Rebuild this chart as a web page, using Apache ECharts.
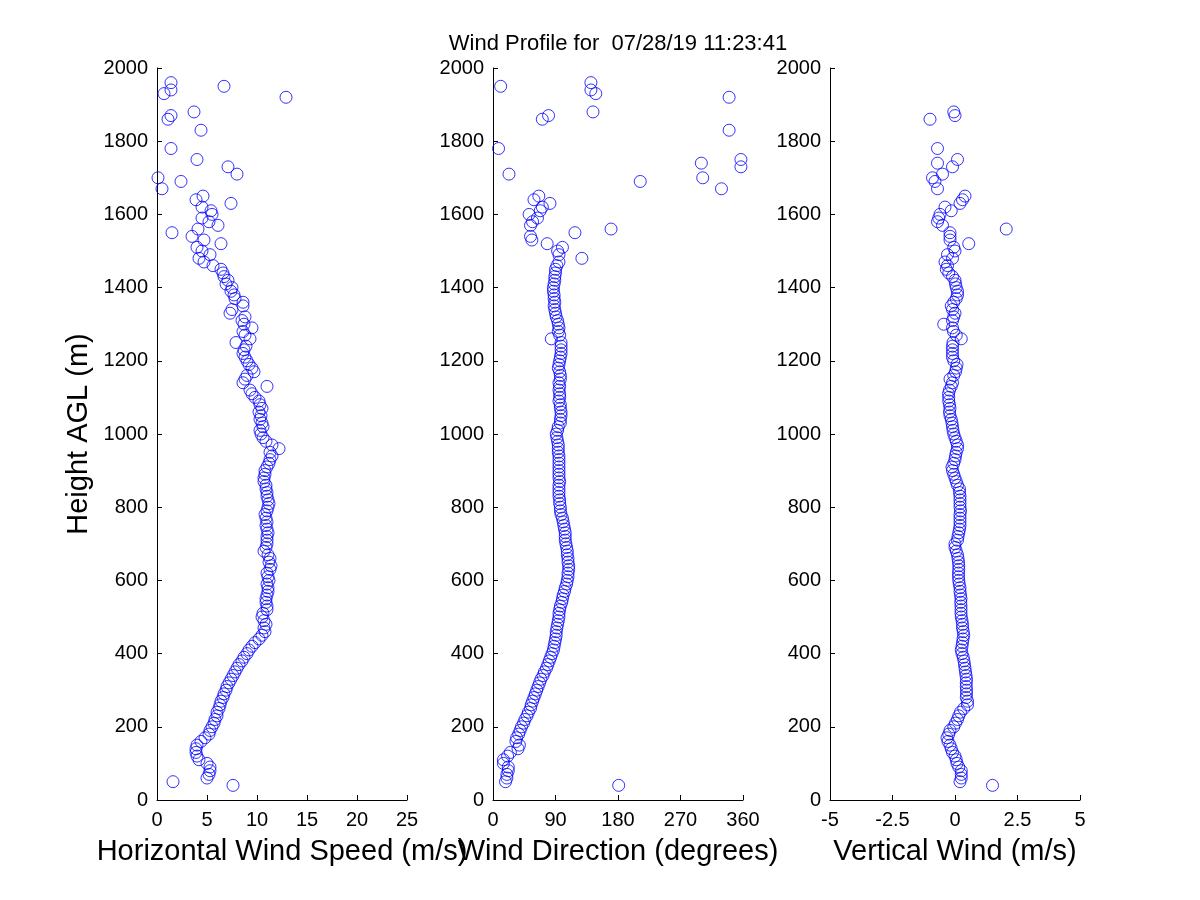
<!DOCTYPE html>
<html>
<head>
<meta charset="utf-8">
<script src="https://cdn.jsdelivr.net/npm/echarts@6/dist/echarts.min.js"></script>
<style>
html,body{margin:0;padding:0;background:#fff;}
#chart{width:1200px;height:900px;}
</style>
</head>
<body>
<div id="chart"></div>
<script>
// Heights (m AGL)
const heights = [
  40,50,60,70,80,90,100,110,120,130,
  140,150,160,170,180,190,200,210,220,230,
  240,250,260,270,280,290,300,310,320,330,
  340,350,360,370,380,390,400,410,420,430,
  440,450,460,470,480,490,500,510,520,530,
  540,550,560,570,580,590,600,610,620,630,
  640,650,660,670,680,690,700,710,720,730,
  740,750,760,770,780,790,800,810,820,830,
  840,850,860,870,880,890,900,910,920,930,
  940,950,960,970,980,990,1000,1010,1020,1030,
  1040,1050,1060,1070,1080,1090,1100,1110,1120,1130,
  1140,1150,1160,1170,1180,1190,1200,1210,1220,1230,
  1240,1250,1260,1270,1280,1290,1300,1310,1320,1330,
  1340,1350,1360,1370,1380,1390,1400,1410,1420,1430,
  1440,1450,1460,1470,1480,1490,1500,1510,1520,1530,
  1540,1550,1560,1570,1580,1590,1600,1610,1620,1630,
  1640,1650,1660,1670,1680,1690,1700,1710,1720,1730,
  1740,1750,1760,1770,1780,1790,1800,1810,1820,1830,
  1840,1850,1860,1870,1880,1890,1900,1910,1920,1930,
  1940,1950,1960
];

// Horizontal wind speed (m/s)
const windSpeed = [
  7.6,1.6,5.0,5.2,5.3,5.3,5.0,4.2,4.0,3.9,
  3.9,4.0,4.4,4.8,5.2,5.3,5.5,5.7,5.8,6.0,
  6.0,6.2,6.3,6.4,6.6,6.7,6.9,7.0,7.2,7.4,
  7.6,7.8,8.0,8.2,8.5,8.7,9.0,9.2,9.5,9.8,
  10.2,10.5,10.8,10.7,10.9,10.7,10.5,10.6,11.0,11.0,
  10.9,10.9,11.0,11.1,11.1,11.0,11.2,11.1,11.0,11.3,
  11.4,11.2,11.3,11.1,10.7,10.9,11.0,11.0,11.0,11.1,
  11.0,10.9,11.0,10.9,10.8,11.0,11.1,11.2,11.1,11.0,
  11.0,10.9,10.9,10.7,10.7,10.8,10.8,11.0,11.2,11.3,
  11.5,11.3,12.2,11.5,10.9,10.6,10.4,10.3,10.6,10.5,
  10.3,10.4,10.2,10.5,10.3,10.2,9.8,9.5,9.3,11.0,
  8.6,8.8,9.0,9.7,9.5,9.2,9.0,8.8,8.6,8.7,
  8.9,7.9,9.3,8.8,8.6,9.5,8.7,8.5,8.8,7.3,
  7.5,8.6,8.6,7.8,7.7,7.4,7.5,6.9,7.1,6.7,
  6.6,6.4,5.6,4.7,4.2,5.3,4.5,4.0,6.4,4.7,
  3.5,1.5,4.1,6.1,5.2,4.5,5.5,5.4,4.5,7.4,
  3.9,4.6,null,0.5,null,2.4,0.1,8.0,null,7.1,
  null,4.0,null,null,1.4,null,null,null,null,4.4,
  null,null,1.1,1.4,3.7,null,null,null,12.9,0.7,
  1.4,6.7,1.4
];

// Wind direction (degrees)
const windDir = [
  181,18,20,20,22,22,15,15,21,25,
  36,38,33,34,37,39,41,44,46,49,
  51,54,55,57,59,61,63,65,67,69,
  72,74,77,79,81,83,85,87,88,89,
  90,91,91,92,93,94,95,95,96,97,
  99,100,101,103,104,106,107,108,108,109,
  109,108,108,107,107,106,105,104,104,104,
  103,102,101,100,98,97,97,96,96,95,
  95,95,95,96,95,95,95,95,95,95,
  95,94,94,94,93,92,91,93,94,97,
  97,98,98,97,97,95,96,96,95,96,
  95,97,97,96,94,95,96,97,98,98,
  98,98,84,96,94,95,94,93,91,90,
  89,88,89,88,88,87,87,88,89,89,
  90,90,92,95,128,95,93,100,78,56,
  54,118,170,54,57,64,52,68,71,82,
  59,66,null,329,null,212,302,23,null,357,
  300,357,null,null,8,null,null,null,null,340,
  null,null,71,80,144,null,null,null,340,148,
  141,11,141
];

// Vertical wind (m/s)
const vertWind = [
  1.5,0.2,0.25,0.25,0.25,0.15,0.08,0.05,0.0,-0.1,
  -0.15,-0.2,-0.28,-0.32,-0.25,-0.2,-0.05,0.02,0.1,0.15,
  0.22,0.35,0.5,0.5,0.45,0.46,0.46,0.45,0.45,0.46,
  0.44,0.42,0.4,0.38,0.36,0.33,0.28,0.25,0.28,0.3,
  0.32,0.35,0.33,0.3,0.3,0.28,0.25,0.24,0.24,0.24,
  0.23,0.24,0.22,0.2,0.2,0.17,0.15,0.14,0.14,0.15,
  0.15,0.14,0.12,0.1,0.05,0.0,0.0,0.1,0.12,0.15,
  0.18,0.2,0.2,0.2,0.2,0.22,0.2,0.2,0.2,0.2,
  0.18,0.18,0.1,0.05,0.0,-0.05,-0.1,-0.12,-0.05,0.0,
  0.02,0.05,0.1,0.1,0.05,0.0,-0.05,-0.08,-0.1,-0.12,
  -0.15,-0.2,-0.22,-0.2,-0.22,-0.25,-0.25,-0.26,-0.22,-0.15,
  -0.1,-0.2,-0.05,0.02,0.05,0.08,-0.05,-0.1,-0.1,-0.1,
  -0.1,-0.08,0.25,0.05,-0.06,-0.1,-0.45,-0.1,-0.05,0.0,
  -0.1,-0.15,-0.05,0.05,0.1,0.1,0.05,0.02,0.0,-0.1,
  -0.25,-0.35,-0.3,-0.4,-0.1,-0.3,0.0,-0.05,0.55,-0.2,
  -0.2,-0.2,2.05,-0.5,-0.7,-0.65,-0.6,-0.15,-0.4,0.2,
  0.3,0.4,null,-0.7,null,-0.8,-0.9,-0.5,null,-0.1,
  -0.7,0.1,null,null,-0.7,null,null,null,null,null,
  null,null,-1.0,0.0,-0.05,null,null,null,null,null,
  null,null,null
];

const titleText = 'Wind Profile for  07/28/19 11:23:41';
const xNames = ['Horizontal Wind Speed (m/s)', 'Wind Direction (degrees)', 'Vertical Wind (m/s)'];
const yName = 'Height AGL (m)';

function pairs(vals) {
  const out = [];
  heights.forEach((h, i) => { if (vals[i] !== null && vals[i] !== undefined) out.push([vals[i], h]); });
  return out;
}

const FONT = 'Liberation Sans, Arial, sans-serif';
const lefts = [157, 493, 830];
const grids = lefts.map(l => ({ left: l, width: 250, top: 68, height: 732, containLabel: false }));

function baseAxis() {
  return {
    axisLine: { show: true, onZero: false, lineStyle: { color: '#000', width: 1 } },
    axisTick: { show: true, inside: true, length: 5, lineStyle: { color: '#000' } },
    splitLine: { show: false },
    axisLabel: { color: '#000', fontSize: 20, fontFamily: FONT, formatter: v => String(v) }
  };
}

const xSpecs = [
  { min: 0, max: 25, interval: 5 },
  { min: 0, max: 360, interval: 90 },
  { min: -5, max: 5, interval: 2.5 }
];
const xAxes = xSpecs.map((s, i) => {
  const a = baseAxis();
  a.axisLabel.margin = 10;
  return Object.assign(a, s, {
    gridIndex: i, type: 'value',
    name: xNames[i], nameLocation: 'middle', nameGap: 37,
    nameTextStyle: { color: '#000', fontSize: 29, fontFamily: FONT }
  });
});

const yAxes = [0, 1, 2].map(i => {
  const a = baseAxis();
  a.axisLabel.margin = 9;
  return Object.assign(a, {
    gridIndex: i, type: 'value', min: 0, max: 2000, interval: 200,
    name: i === 0 ? yName : '',
    nameLocation: 'middle', nameGap: 64,
    nameTextStyle: { color: '#000', fontSize: 29, fontFamily: FONT }
  });
});

const seriesVals = [windSpeed, windDir, vertWind];
const series = seriesVals.map((vals, i) => ({
  type: 'scatter',
  xAxisIndex: i, yAxisIndex: i,
  data: pairs(vals),
  symbol: 'circle',
  symbolSize: 12,
  itemStyle: { color: 'rgba(0,0,0,0)', borderColor: '#0000ff', borderWidth: 1 },
  emphasis: { disabled: true },
  silent: true,
  clip: false
}));

const chart = echarts.init(document.getElementById('chart'), null, { renderer: 'canvas' });
chart.setOption({
  backgroundColor: '#fff',
  animation: false,
  grid: grids,
  xAxis: xAxes,
  yAxis: yAxes,
  series: series,
  graphic: [{
    type: 'text', x: 618, y: 44,
    style: { text: titleText, fill: '#000', font: '22px ' + FONT, textAlign: 'center', textVerticalAlign: 'middle' }
  }]
});
</script>
</body>
</html>
